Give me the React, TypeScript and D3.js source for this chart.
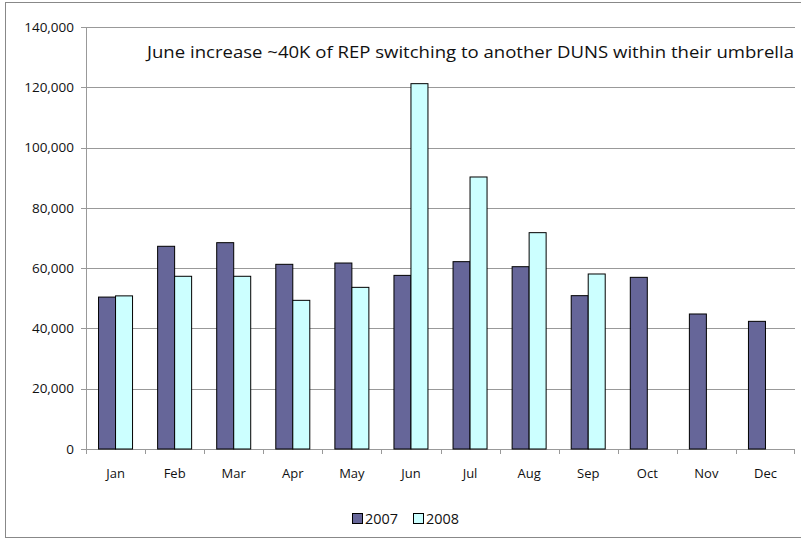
import React from "react";
import * as d3 from "d3";

const months = ["Jan","Feb","Mar","Apr","May","Jun","Jul","Aug","Sep","Oct","Nov","Dec"];
const series2007 = [50400, 67250, 68450, 61270, 61700, 57600, 62150, 60480, 50870, 56950, 44790, 42350];
const series2008: (number | null)[] = [50800, 57300, 57300, 49320, 53630, 121200, 90240, 71770, 58060, null, null, null];
const yTicks = [0, 20000, 40000, 60000, 80000, 100000, 120000, 140000];
const seriesNames = ["2007", "2008"];
const colors = ["#666699", "#CCFFFF"];
const annotation = "June increase ~40K of REP switching to another DUNS within their umbrella";

export default function App() {
  const W = 801, H = 540;
  const left = 86, right = 795, top = 27, bottom = 449;
  const font = "'Open Sans', 'Noto Sans', sans-serif";
  const x = d3.scaleBand<string>().domain(months).range([left, right]).paddingInner(0).paddingOuter(0);
  const y = d3.scaleLinear().domain([0, 140000]).range([bottom, top]);
  const bw = 17;
  const fmt = d3.format(",");
  const data = [series2007, series2008];
  return (
    <svg width={W} height={H} style={{ position: "absolute", left: 0, top: 0 }} fontFamily={font}>
      <rect x={0} y={0} width={W} height={H} fill="#fff" />
      <rect x={5.5} y={2.5} width={800} height={535} fill="none" stroke="#888" strokeWidth={1} />
      {yTicks.map((t) => (
        <g key={t}>
          {t > 0 && <line x1={left} x2={right} y1={Math.round(y(t)) + 0.5} y2={Math.round(y(t)) + 0.5} stroke="#999" />}
          <line x1={left - 5} x2={left} y1={Math.round(y(t)) + 0.5} y2={Math.round(y(t)) + 0.5} stroke="#999" />
          <text x={74} y={y(t)} dy="0.35em" textAnchor="end" fontSize={13.5} fill="#111">{fmt(t)}</text>
        </g>
      ))}
      <line x1={left + 0.5} x2={left + 0.5} y1={top} y2={bottom} stroke="#999" />
      <line x1={left} x2={right} y1={bottom + 0.5} y2={bottom + 0.5} stroke="#999" />
      {months.map((m) => (
        <line key={"t" + m} x1={Math.round(x(m)!) + 0.5} x2={Math.round(x(m)!) + 0.5} y1={bottom} y2={bottom + 5} stroke="#999" />
      ))}
      <line x1={right - 0.5} x2={right - 0.5} y1={bottom} y2={bottom + 5} stroke="#999" />
      {months.map((m) => (
        <text key={"l" + m} x={x(m)! + x.bandwidth() / 2} y={473} dy="0.35em" textAnchor="middle" fontSize={13} fill="#111">{m}</text>
      ))}
      {data.map((s, si) =>
        s.map((v, i) => {
          if (v == null) return null;
          const cx = x(months[i])! + x.bandwidth() / 2;
          const x0 = cx - bw + si * bw;
          return (
            <rect key={si + "-" + i} x={x0} y={y(v)} width={bw} height={bottom - y(v)} fill={colors[si]} stroke="#000" strokeWidth={1} />
          );
        })
      )}
      <text x={147} y={52} dy="0.35em" fontSize={16.5} fill="#111" textLength={647} lengthAdjust="spacingAndGlyphs">{annotation}</text>
      {seriesNames.map((n, i) => (
        <g key={n} transform={`translate(${352 + i * 61},0)`}>
          <rect x={0.5} y={513.5} width={10} height={10} fill={colors[i]} stroke="#000" />
          <text x={13} y={519} dy="0.35em" fontSize={14} fill="#111" textLength={33} lengthAdjust="spacingAndGlyphs">{n}</text>
        </g>
      ))}
    </svg>
  );
}
